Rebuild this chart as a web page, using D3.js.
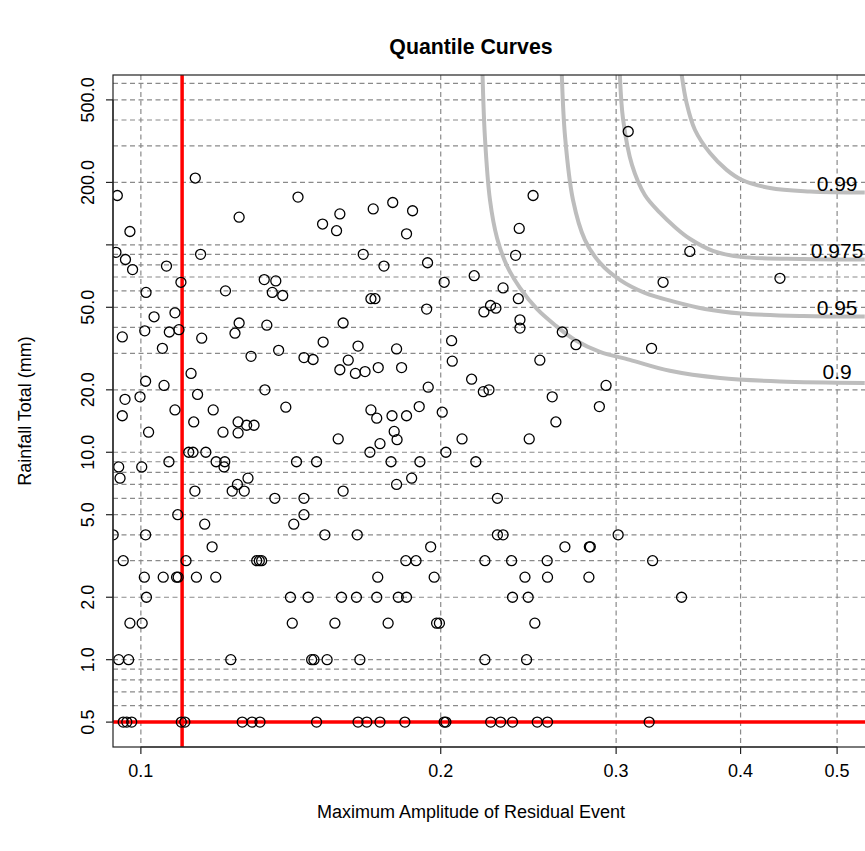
<!DOCTYPE html>
<html><head><meta charset="utf-8">
<script src="https://cdn.jsdelivr.net/npm/d3@7"></script>
<style>
body{margin:0;background:#fff}
text{font-family:"Liberation Sans",Arial,Helvetica,sans-serif;fill:#000}
</style>
</head><body><svg id="chart" width="865" height="851"></svg>
<script>
// ---- data ----
const events = [
 [0.1134,210],[0.0947,173],[0.1438,170],[0.1255,136],[0.0975,116],[0.0944,92],[0.0965,85],[0.0981,76],
 [0.1061,79],[0.1148,90],[0.1097,66],[0.1012,59],[0.1216,60],[0.1330,68],[0.1366,67],[0.1355,59],
 [0.1388,57],[0.1031,45],[0.1082,47],[0.0958,36],[0.1009,38.5],[0.1068,38],[0.1092,39],[0.1151,35.5],
 [0.1255,42],[0.1243,37.5],[0.1338,41],[0.1290,29],[0.1375,31],[0.1051,31.7],[0.1123,24],[0.1011,22],
 [0.1055,21],[0.1140,19],[0.1332,20],[0.0964,18],[0.0998,18.5],[0.0958,15],[0.1082,16],[0.1182,16],
 [0.1398,16.5],[0.1130,14],[0.1252,14],[0.1277,13.5],[0.1299,13.5],[0.1252,12.4],[0.1209,12.5],[0.1018,12.5],
 [0.1117,10],[0.1128,10],[0.1162,10],[0.0950,8.5],[0.0953,7.5],[0.1002,8.5],[0.1067,9],[0.1190,9],
 [0.1214,9],[0.1212,8.5],[0.1433,9],[0.1281,7.5],[0.1250,7],[0.1235,6.5],[0.1270,6.5],[0.1133,6.5],
 [0.1363,6],[0.1089,5],[0.1159,4.5],[0.1424,4.5],[0.0938,4],[0.1011,4],[0.1179,3.5],[0.0960,3],
 [0.1110,3],[0.1307,3],[0.1315,3],[0.1322,3],[0.1008,2.5],[0.1053,2.5],[0.1086,2.5],[0.1090,2.5],
 [0.1137,2.5],[0.1189,2.5],[0.1013,2],[0.1413,2],[0.0975,1.5],[0.1003,1.5],[0.1419,1.5],[0.0950,1],
 [0.0972,1],[0.1231,1],[0.0960,0.5],[0.0968,0.5],[0.0979,0.5],[0.1098,0.5],[0.1107,0.5],[0.1264,0.5],
 [0.1293,0.5],[0.1317,0.5],
 [0.1584,141],[0.1522,126],[0.1572,117],[0.1711,149],[0.1790,160],[0.1874,146],[0.1848,113],[0.1672,90],
 [0.1754,79],[0.1940,82],[0.2016,66],[0.2161,71],[0.1702,55],[0.1718,55],[0.1936,49],[0.1596,42],
 [0.1524,34],[0.1652,32.5],[0.1806,31.5],[0.1458,28.6],[0.1489,28],[0.1615,27.8],[0.1584,25],[0.1642,24],
 [0.1679,24.5],[0.1731,25.6],[0.1827,25.6],[0.2051,34.5],[0.2054,27.5],[0.1943,20.6],[0.2148,22.5],[0.1702,16],
 [0.1725,14.6],[0.1787,15],[0.1848,15],[0.1903,16.6],[0.2007,15.6],[0.1796,12.6],[0.1808,11.5],[0.1578,11.6],
 [0.1738,11],[0.1698,10],[0.2101,11.6],[0.2024,10],[0.1501,9],[0.1783,9],[0.1906,9],[0.2169,9],
 [0.1806,7],[0.1870,7.5],[0.1596,6.5],[0.1458,6],[0.1458,5],[0.1530,4],[0.1649,4],[0.1954,3.5],
 [0.1845,3],[0.1889,3],[0.2215,3],[0.1729,2.5],[0.1970,2.5],
 [0.1472,2],[0.1590,2],[0.1646,2],[0.1725,2],[0.1813,2],[0.1848,2],
 [0.1566,1.5],[0.1771,1.5],[0.1981,1.5],[0.1994,1.5],
 [0.1484,1],[0.1492,1],[0.1538,1],[0.1659,1],[0.2215,1],
 [0.1501,0.5],[0.1652,0.5],[0.1686,0.5],[0.1738,0.5],[0.1841,0.5],[0.2016,0.5],[0.2024,0.5],[0.2245,0.5],
 [0.3085,352],[0.2476,173],[0.2398,120],[0.2378,89],[0.2310,62],[0.3344,66],[0.2393,55],[0.2210,47.5],
 [0.2244,51],[0.2272,49.5],[0.2402,43.5],[0.2402,39.7],[0.2649,38],[0.2734,33],[0.2515,27.8],[0.3256,31.7],
 [0.2207,19.6],[0.2236,20],[0.2588,18.5],[0.2931,21],[0.2886,16.6],[0.2610,14],[0.2454,11.6],[0.2280,6],
 [0.2280,4],[0.2310,4],[0.3014,4],[0.2665,3.5],[0.2820,3.5],[0.2826,3.5],[0.2356,3],[0.2558,3],
 [0.3264,3],[0.2430,2.5],[0.2560,2.5],[0.2817,2.5],[0.2361,2],[0.2448,2],[0.3490,2],[0.2486,1.5],
 [0.2439,1],[0.2297,0.5],[0.2361,0.5],[0.2500,0.5],[0.2560,0.5],[0.3238,0.5],
 [0.3557,93],[0.4381,69]
];

const q90  = [[0.2203,660],[0.2215,332],[0.2241,165],[0.2278,108],[0.2331,79.2],[0.2402,62],[0.2498,49.1],[0.2604,41.1],[0.2728,34.8],[0.289,30.5],[0.3097,27.9],[0.3397,24.7],[0.3815,22.8],[0.4381,21.95],[0.533,21.6]];
const q95  = [[0.2646,660],[0.2666,332],[0.2715,165],[0.2791,105.7],[0.289,81.9],[0.3026,67.8],[0.3206,58.7],[0.3436,53.1],[0.3684,49.1],[0.4004,46.7],[0.4624,45.4],[0.533,45.1]];
const q975 = [[0.3026,660],[0.3049,401],[0.3112,243],[0.3206,174],[0.3319,143],[0.3436,122],[0.3557,107],[0.3752,93.6],[0.4004,87.5],[0.4624,85.5],[0.533,85]];
const q99  = [[0.3491,660],[0.3531,482],[0.3599,359],[0.3727,277],[0.3873,230],[0.401,206],[0.4281,188],[0.4696,181],[0.533,179]];
const quantileCurves = [q90, q95, q975, q99];
const quantileNames = ["0.9", "0.95", "0.975", "0.99"];
const quantileLabelY = [24.5, 50, 94, 197];
const quantileLabelX = 0.5;

const ampThreshold = 0.11;
const rainThreshold = 0.5;

const xTicks = [0.1, 0.2, 0.3, 0.4, 0.5];
const xTickLabels = ["0.1", "0.2", "0.3", "0.4", "0.5"];
const yTicks = [0.5, 1, 2, 5, 10, 20, 50, 100, 200, 500];
const yTickLabels = ["0.5", "1.0", "2.0", "5.0", "10.0", "20.0", "50.0", "", "200.0", "500.0"];
const xGrid = [0.1, 0.2, 0.3, 0.4, 0.5];
const yGrid = [0.5,0.6,0.7,0.8,0.9,1,2,3,4,5,6,7,8,9,10,20,30,40,50,60,70,80,90,100,200,300,400,500,600];
const xDomain = [0.09376, 0.5333];
const yDomain = [0.3793, 659.1];

// ---- layout ----
const L = 113, R = 865, T = 75, B = 747;
const FS = 18;
const svg = d3.select("#chart");
const x = d3.scaleLog().domain(xDomain).range([L, R]);
const y = d3.scaleLog().domain(yDomain).range([B, T]);

svg.append("rect").attr("width", 865).attr("height", 851).attr("fill", "#fff");
svg.append("defs").append("clipPath").attr("id", "clip")
  .append("rect").attr("x", L).attr("y", T).attr("width", R - L).attr("height", B - T);

const plot = svg.append("g").attr("clip-path", "url(#clip)");

// grid
plot.selectAll(".hg").data(yGrid).enter().append("line")
  .attr("x1", L).attr("x2", R).attr("y1", d => y(d)).attr("y2", d => y(d))
  .attr("stroke", "#8a8a8a").attr("stroke-width", 1.2).attr("stroke-dasharray", "5,3.5");
plot.selectAll(".vg").data(xGrid).enter().append("line")
  .attr("y1", T).attr("y2", B).attr("x1", d => x(d)).attr("x2", d => x(d))
  .attr("stroke", "#8a8a8a").attr("stroke-width", 1.2).attr("stroke-dasharray", "5,3.5");

// quantile curves
const line = d3.line().x(d => x(d[0])).y(d => y(d[1])).curve(d3.curveCatmullRom.alpha(0.5));
plot.selectAll(".qc").data(quantileCurves).enter().append("path")
  .attr("d", line).attr("fill", "none").attr("stroke", "#bdbdbd").attr("stroke-width", 4);
plot.selectAll(".ql").data(quantileNames).enter().append("text")
  .attr("x", x(quantileLabelX)).attr("y", (d, i) => y(quantileLabelY[i]))
  .attr("dy", "0.35em").attr("text-anchor", "middle").attr("font-size", 21).text(d => d);

// threshold lines
plot.append("line").attr("x1", x(ampThreshold)).attr("x2", x(ampThreshold)).attr("y1", T).attr("y2", B)
  .attr("stroke", "#ff0000").attr("stroke-width", 3.5);
plot.append("line").attr("x1", L).attr("x2", R).attr("y1", y(rainThreshold)).attr("y2", y(rainThreshold))
  .attr("stroke", "#ff0000").attr("stroke-width", 3.5);

// points
plot.selectAll(".pt").data(events).enter().append("circle")
  .attr("cx", d => x(d[0])).attr("cy", d => y(d[1])).attr("r", 5)
  .attr("fill", "none").attr("stroke", "#000").attr("stroke-width", 1.3);

// box
svg.append("rect").attr("x", L).attr("y", T).attr("width", R - L + 2).attr("height", B - T)
  .attr("fill", "none").attr("stroke", "#222").attr("stroke-width", 1.2);

// x axis
const xa = svg.append("g");
xa.append("line").attr("x1", x(xTicks[0])).attr("x2", x(xTicks[xTicks.length - 1]))
  .attr("y1", B).attr("y2", B).attr("stroke", "#222").attr("stroke-width", 1.2);
xTicks.forEach((t, i) => {
  xa.append("line").attr("x1", x(t)).attr("x2", x(t)).attr("y1", B).attr("y2", B + 7)
    .attr("stroke", "#222").attr("stroke-width", 1.2);
  xa.append("text").attr("x", x(t)).attr("y", 777).attr("text-anchor", "middle")
    .attr("font-size", FS).text(xTickLabels[i]);
});

// y axis
const ya = svg.append("g");
ya.append("line").attr("x1", L).attr("x2", L).attr("y1", y(yTicks[0])).attr("y2", y(yTicks[yTicks.length - 1]))
  .attr("stroke", "#222").attr("stroke-width", 1.2);
yTicks.forEach((t, i) => {
  ya.append("line").attr("x1", L - 7).attr("x2", L).attr("y1", y(t)).attr("y2", y(t))
    .attr("stroke", "#222").attr("stroke-width", 1.2);
  ya.append("text").attr("transform", `translate(88,${y(t)}) rotate(-90)`)
    .attr("dy", "0.35em").attr("text-anchor", "middle").attr("font-size", FS).text(yTickLabels[i]);
});

// titles
svg.append("text").attr("x", 471).attr("y", 54).attr("text-anchor", "middle")
  .attr("font-size", 21.3).attr("font-weight", "bold").text("Quantile Curves");
svg.append("text").attr("x", 471).attr("y", 818).attr("text-anchor", "middle")
  .attr("font-size", FS).text("Maximum Amplitude of Residual Event");
svg.append("text").attr("transform", "translate(25,411) rotate(-90)")
  .attr("dy", "0.35em").attr("text-anchor", "middle").attr("font-size", FS).text("Rainfall Total (mm)");
</script></body></html>
